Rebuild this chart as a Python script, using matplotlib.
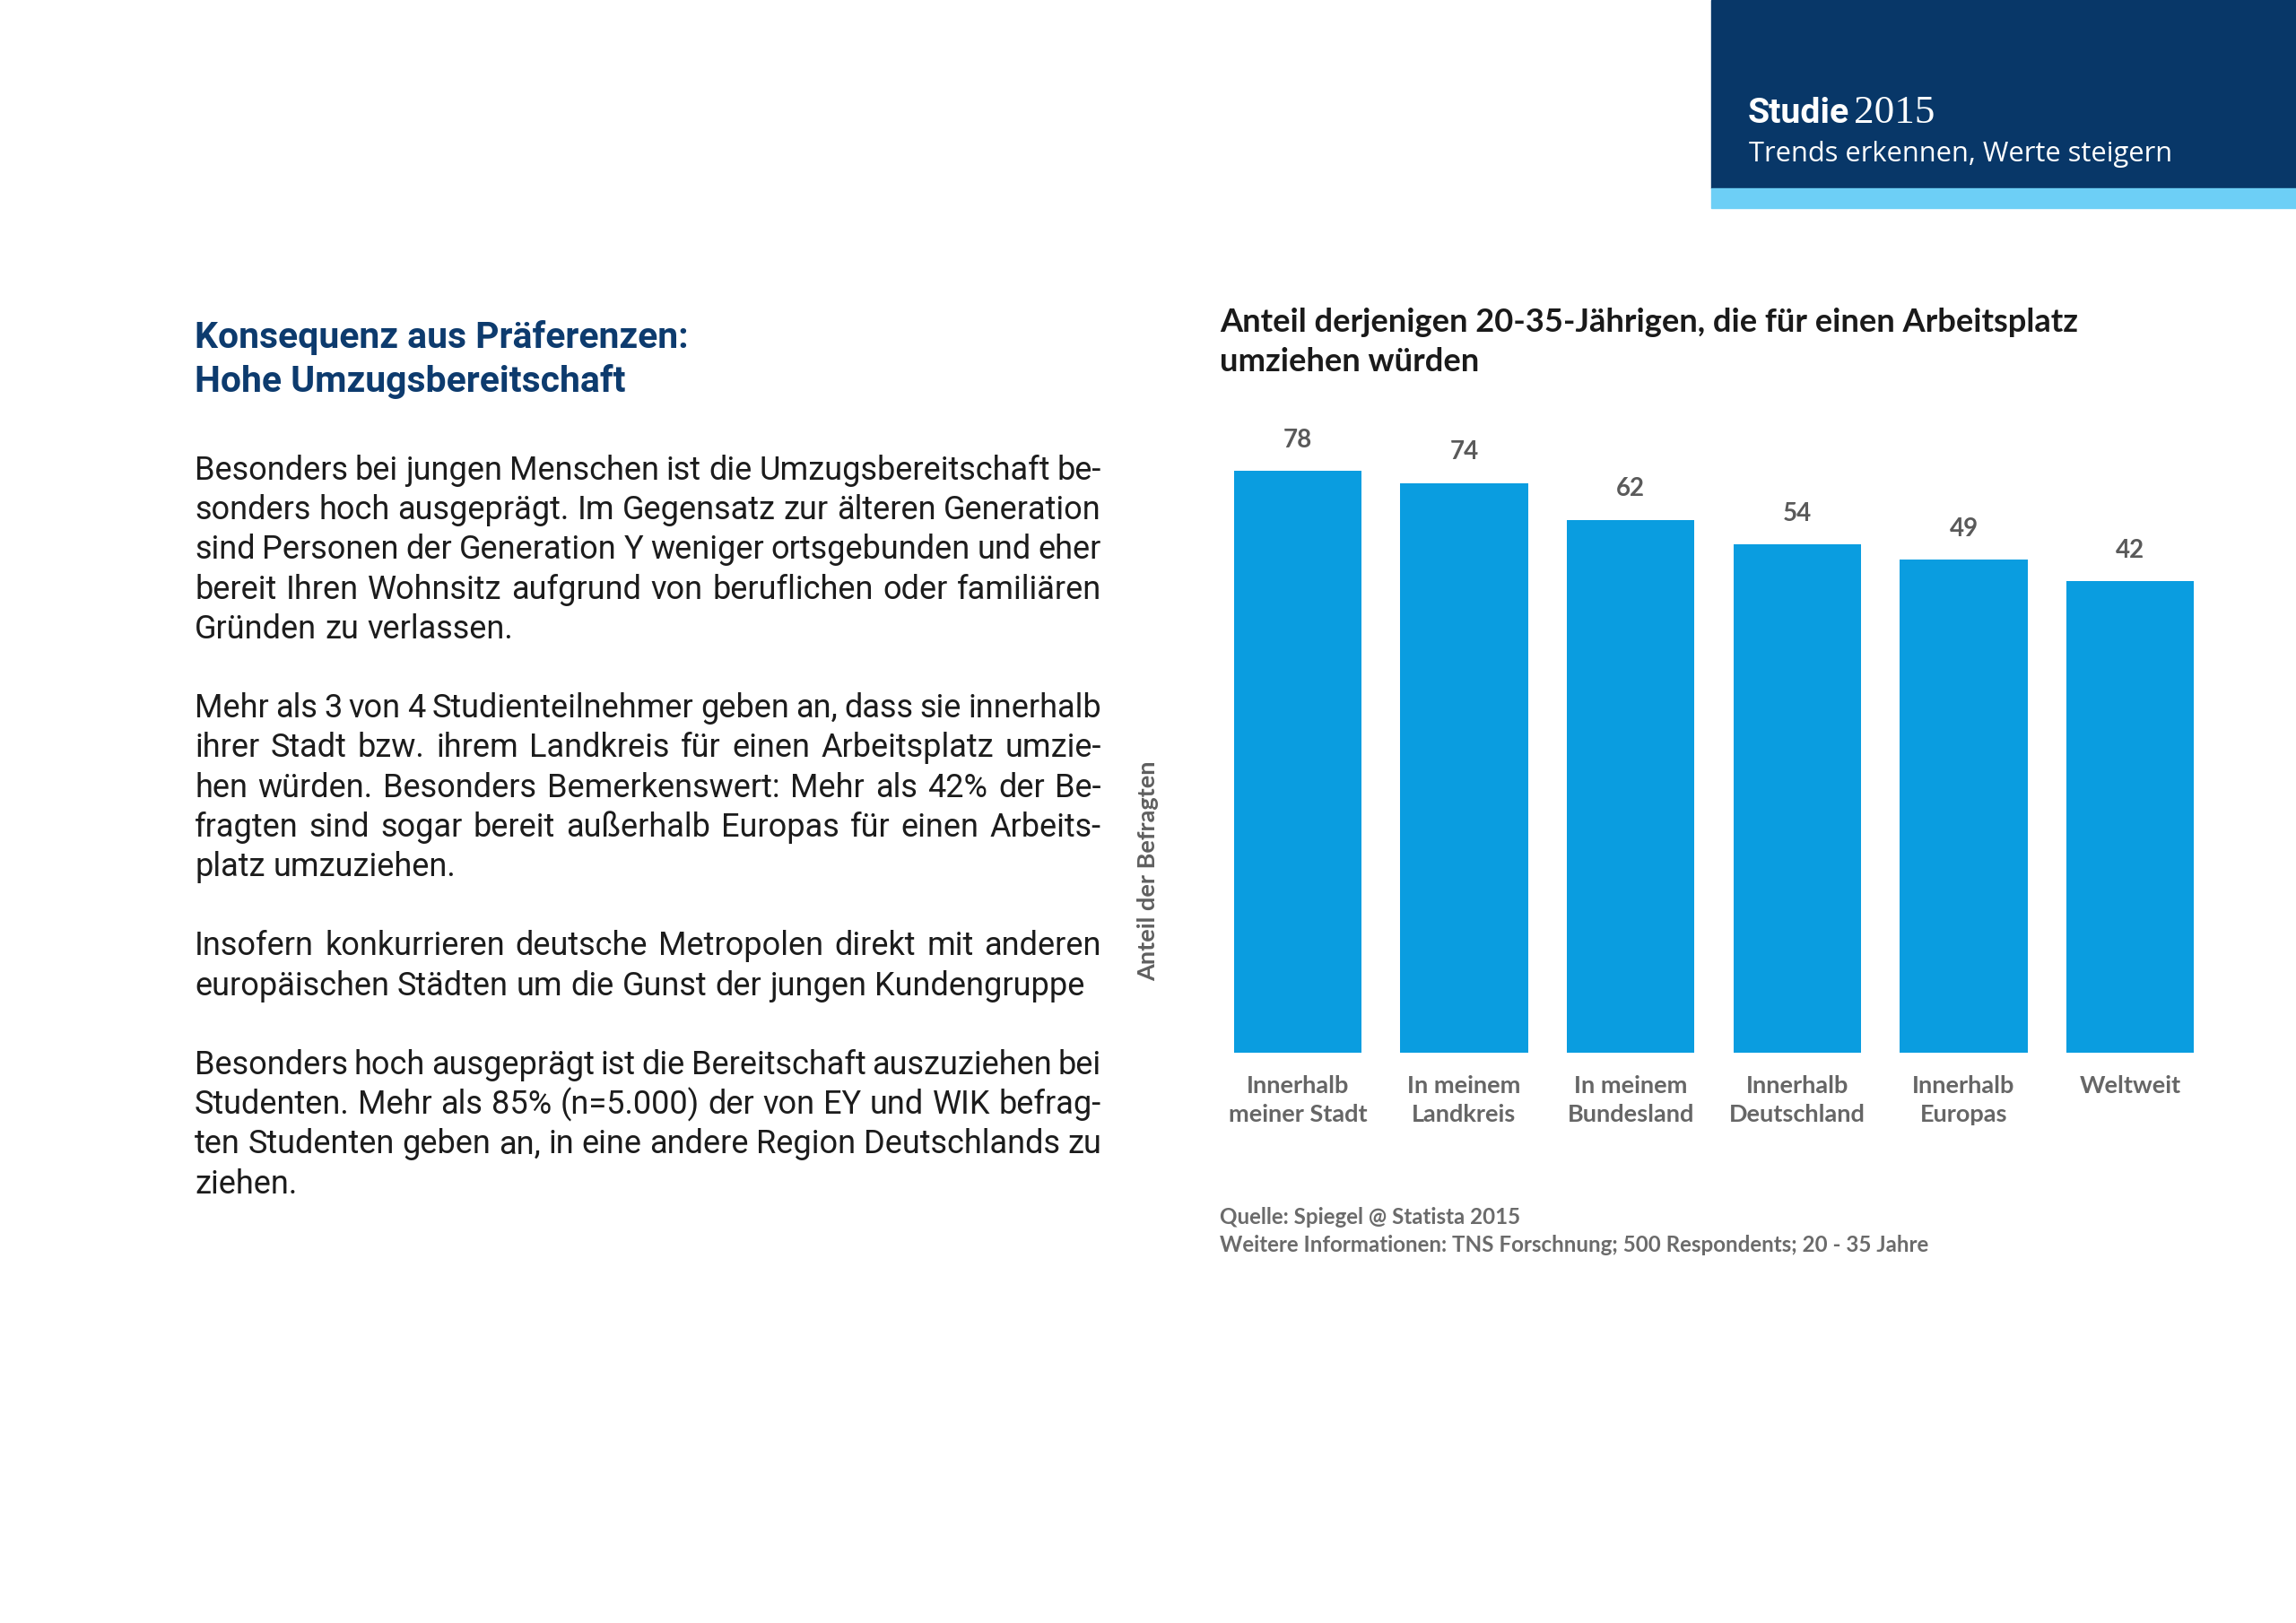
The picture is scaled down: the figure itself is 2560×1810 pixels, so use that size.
import matplotlib
matplotlib.use("Agg")
import matplotlib.pyplot as plt
from matplotlib import font_manager
from matplotlib.patches import Rectangle
import numpy as np

# ---- data -------------------------------------------------------------
categories = ["Innerhalb\nmeiner Stadt", "In meinem\nLandkreis", "In meinem\nBundesland",
              "Innerhalb\nDeutschland", "Innerhalb\nEuropas", "Weltweit"]
values = [78, 74, 62, 54, 49, 42]

chart_title = ["Anteil derjenigen 20-35-Jährigen, die für einen Arbeitsplatz",
               "umziehen würden"]
y_label = "Anteil der Befragten"
source_lines = ["Quelle: Spiegel @ Statista 2015",
                "Weitere Informationen: TNS Forschnung; 500 Respondents; 20 - 35 Jahre"]

header_bold = "Studie"
header_year = "2015"
header_sub = "Trends erkennen, Werte steigern"

heading = ["Konsequenz aus Präferenzen:", "Hohe Umzugsbereitschaft"]
paragraphs = [
    ["Besonders bei jungen Menschen ist die Umzugsbereitschaft be-",
     "sonders hoch ausgeprägt. Im Gegensatz zur älteren Generation",
     "sind Personen der Generation Y weniger ortsgebunden und eher",
     "bereit Ihren Wohnsitz aufgrund von beruflichen oder familiären",
     "Gründen zu verlassen."],
    ["Mehr als 3 von 4 Studienteilnehmer geben an, dass sie innerhalb",
     "ihrer Stadt bzw. ihrem Landkreis für einen Arbeitsplatz umzie-",
     "hen würden. Besonders Bemerkenswert: Mehr als 42% der Be-",
     "fragten sind sogar bereit außerhalb Europas für einen Arbeits-",
     "platz umzuziehen."],
    ["Insofern konkurrieren deutsche Metropolen direkt mit anderen",
     "europäischen Städten um die Gunst der jungen Kundengruppe"],
    ["Besonders hoch ausgeprägt ist die Bereitschaft auszuziehen bei",
     "Studenten. Mehr als 85% (n=5.000) der von EY und WIK befrag-",
     "ten Studenten geben an, in eine andere Region Deutschlands zu",
     "ziehen."],
]

# ---- helpers ----------------------------------------------------------
W, H = 2560, 1810


def pick(*names):
    for n in names:
        try:
            font_manager.findfont(font_manager.FontProperties(family=n),
                                  fallback_to_default=False)
            return n
        except Exception:
            continue
    return "DejaVu Sans"


NARROW = pick("Liberation Sans Narrow", "Roboto", "DejaVu Sans")
BODY = pick("Roboto", "DejaVu Sans")
LATO = pick("Lato", "DejaVu Sans")
SERIF = pick("Liberation Serif", "DejaVu Serif")
OPEN = pick("Open Sans", "Lato")

fig = plt.figure(figsize=(25.6, 18.1), dpi=100)
fig.patch.set_facecolor("white")
renderer = fig.canvas.get_renderer()


def fx(x):
    return x / W


def fy(y):
    return 1 - y / H


def width_of(s, size, **kw):
    t = fig.text(0, 0, s, fontsize=size, **kw)
    w = t.get_window_extent(renderer).width
    t.remove()
    return w


def fit(s, target, **kw):
    return 20 * target / width_of(s, 20, **kw)


# ---- header box ---------------------------------------------------------
fig.patches.append(Rectangle((fx(1908), fy(210)), 1 - fx(1908), 210 / H,
                             transform=fig.transFigure, color="#083768", zorder=0))
fig.patches.append(Rectangle((fx(1908), fy(232)), 1 - fx(1908), 22 / H,
                             transform=fig.transFigure, color="#6dcff6", zorder=0))

s_bold = fit(header_bold, 113, family=NARROW, weight="bold")
fig.text(fx(1949), fy(137), header_bold, family=NARROW, weight="bold",
         fontsize=s_bold, color="white", va="baseline")
s_year = fit(header_year, 90, family=SERIF)
fig.text(fx(2067), fy(137), header_year, family=SERIF, fontsize=s_year,
         color="white", va="baseline")
s_sub = fit(header_sub, 471, family=OPEN)
fig.text(fx(1950), fy(180), header_sub, family=OPEN, fontsize=s_sub,
         color="white", va="baseline")

# ---- left heading -------------------------------------------------------
s_head = fit(heading[0], 549, family=NARROW, weight="bold")
for i, line in enumerate(heading):
    fig.text(fx(217), fy(388 + 49 * i), line, family=NARROW, weight="bold",
             fontsize=s_head, color="#0d3b6e", va="baseline")

# ---- justified body text ---------------------------------------------------
LEFT, RIGHT = 217, 1228
body_kw = dict(family=BODY, color="#1c1c1c")
s_body = fit(paragraphs[2][1], 990, **body_kw)
# shrink if a justified line would leave too little room for spaces
for para in paragraphs:
    for line in para[:-1]:
        words = line.split()
        ww = sum(width_of(w, s_body, **body_kw) for w in words)
        need = ww + (len(words) - 1) * 0.18 * s_body * 100 / 72
        if need > RIGHT - LEFT:
            s_body *= (RIGHT - LEFT) / need

row = 0
for para in paragraphs:
    for j, line in enumerate(para):
        y = 535 + 44.2 * row
        words = line.split()
        widths = [width_of(w, s_body, **body_kw) for w in words]
        if j < len(para) - 1 and len(words) > 1:
            gap = (RIGHT - LEFT - sum(widths)) / (len(words) - 1)
        else:
            gap = width_of("a a", s_body, **body_kw) - 2 * width_of("a", s_body, **body_kw)
        x = LEFT
        for w, wd in zip(words, widths):
            fig.text(fx(x), fy(y), w, fontsize=s_body, va="baseline", **body_kw)
            x += wd + gap
        row += 1
    row += 1

# ---- chart --------------------------------------------------------------
lato_bold = dict(family=LATO, weight="bold")
s_title = fit(chart_title[0], 957, **lato_bold)
for i, line in enumerate(chart_title):
    fig.text(fx(1360), fy(370 + 44 * i), line, fontsize=s_title, color="#1a1a1a",
             va="baseline", **lato_bold)

base = -112
ax = fig.add_axes([fx(1354), fy(1174), (2468 - 1354) / W, (1174 - 450) / H])
x = np.arange(len(values))
bars = ax.bar(x, np.array(values) - base, bottom=base, width=0.765, color="#0a9de0")
ax.set_xlim(-0.5, len(values) - 0.5)
ax.set_ylim(base, 100)
for sp in ax.spines.values():
    sp.set_visible(False)
ax.set_yticks([])
ax.set_xticks(x)
ax.set_xticklabels(categories, fontsize=19.5, color="#666666", linespacing=1.42,
                   **lato_bold)
ax.tick_params(axis="x", length=0, pad=18)
for xi, v in zip(x, values):
    ax.annotate(f"{v}", (xi, v), xytext=(0, 19), textcoords="offset points",
                ha="center", va="baseline", fontsize=20, color="#5a5a5a", **lato_bold)

fig.text(fx(1280), fy(971), y_label, rotation=90, ha="center", va="center",
         fontsize=19.5, color="#5f5f5f", **lato_bold)

s_src = fit(source_lines[1], 792, **lato_bold)
for i, line in enumerate(source_lines):
    fig.text(fx(1360), fy(1365 + 31 * i), line, fontsize=s_src, color="#6b6b6b",
             va="baseline", **lato_bold)

fig.savefig("out.png", dpi=100)
